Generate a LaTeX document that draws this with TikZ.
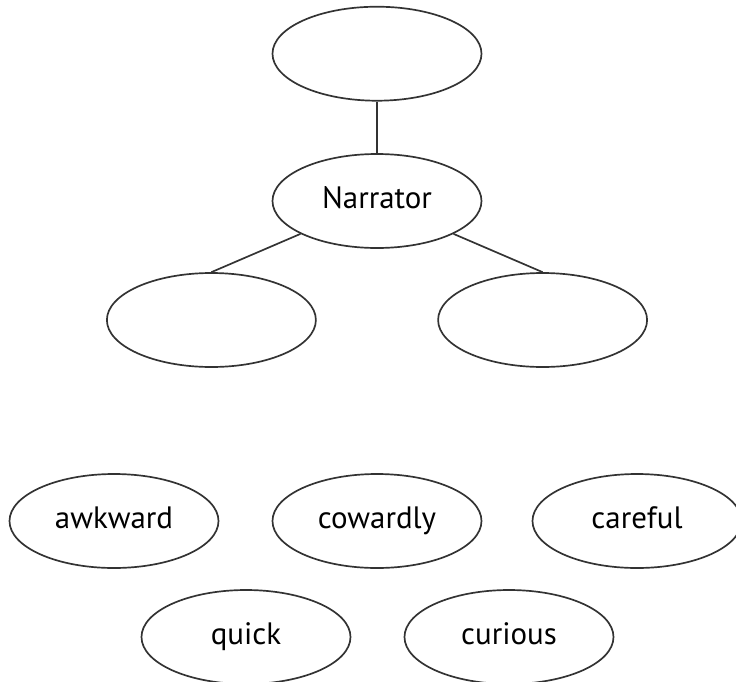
\documentclass[tikz,border=0pt]{standalone}
\usepackage{fontspec}
\setmainfont{PT Sans}
\usetikzlibrary{positioning, shapes.geometric}

\begin{document}
\begin{tikzpicture}[
      oval/.style={draw=black!80, line width=1.2pt, ellipse,
        minimum width=5.225cm, minimum height=2.35cm, inner sep=0pt,
        text height=1.05em, text depth=0pt,
        font=\fontsize{22}{26}\selectfont},
      link/.style={draw=black!80, line width=1.2pt},
      node distance=1.29cm]
    \useasboundingbox (-9.425,-12.0) rectangle (8.975,5.025);
    % the tree around the narrator
    \node[oval] (narr) {Narrator};
    \node[oval, above=of narr] (top) {};
    \node[oval] (left) at (-4.14,-2.975) {};
    \node[oval] (right) at (4.14,-2.975) {};
    \foreach \a/\b in {top/narr, narr/left.north, narr/right.north} {
      \draw[link] (\a) -- (\b);
    }
    % word bank
    \node[oval] (awkward) at (-6.575,-8.0) {awkward};
    \node[oval] (cowardly) at (0,-8.0) {cowardly};
    \node[oval] (careful) at (6.5,-8.0) {careful};
    \node[oval] (quick) at (-3.275,-10.9) {quick};
    \node[oval] (curious) at (3.3,-10.9) {curious};
  \end{tikzpicture}
\end{document}
